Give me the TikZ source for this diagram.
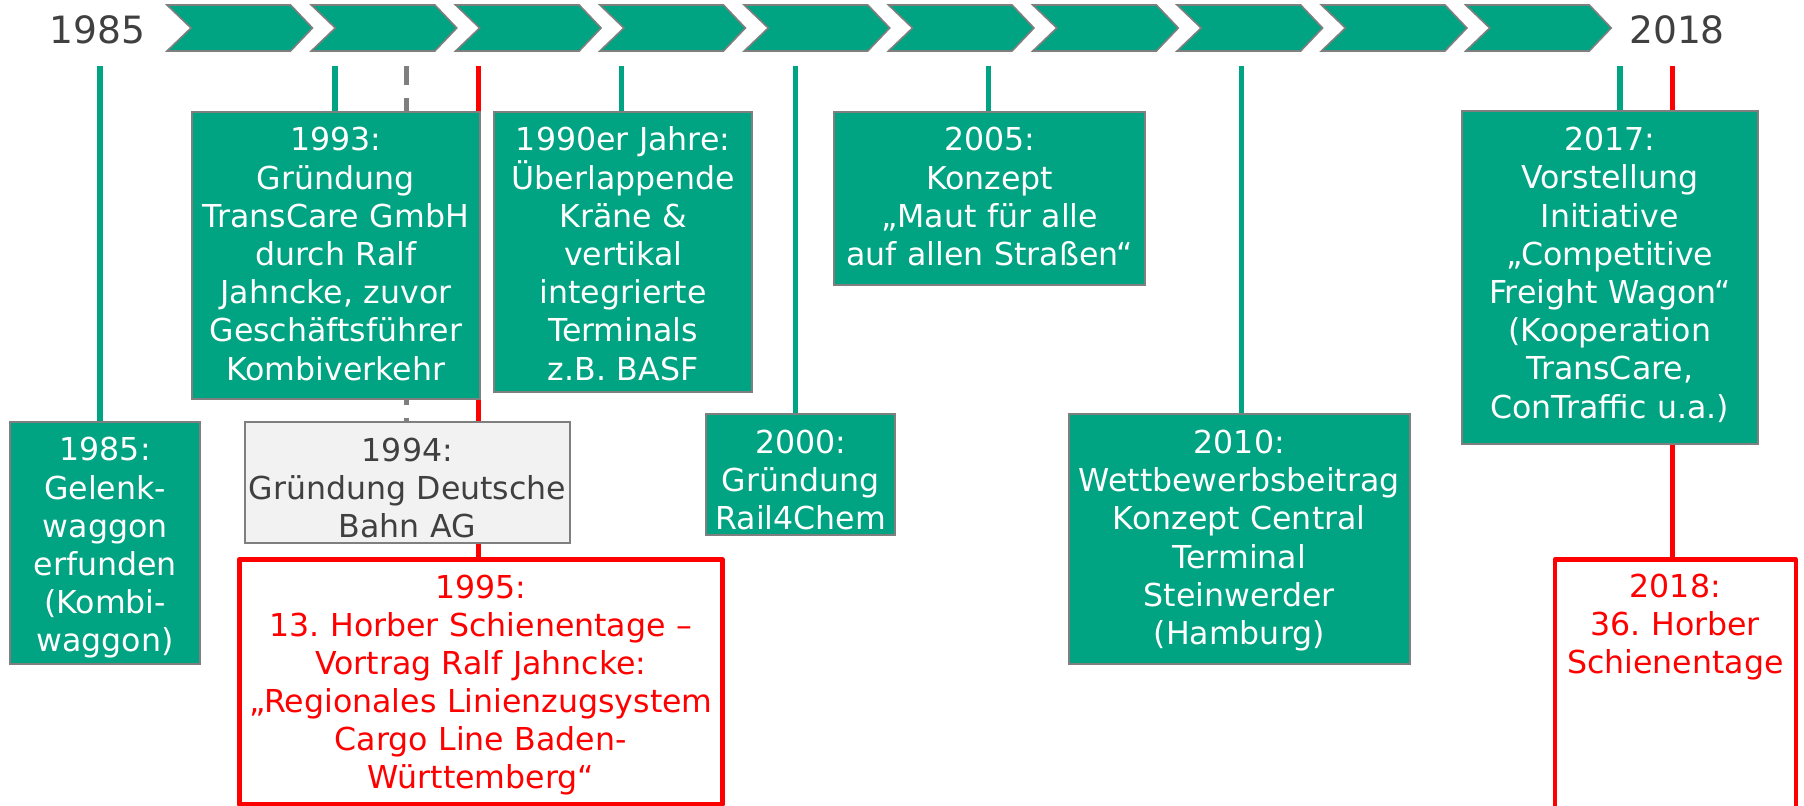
\documentclass[tikz,border=0pt]{standalone}
\usepackage{fontspec}
\setmainfont{DejaVu Sans}
\usetikzlibrary{backgrounds}
\frenchspacing

\definecolor{tlgreen}{RGB}{0,163,130}
\definecolor{tlgray}{RGB}{127,127,127}
\definecolor{tldark}{RGB}{64,64,64}
\definecolor{tllight}{RGB}{242,242,242}
\definecolor{tlred}{RGB}{255,0,0}

\tikzset{
  chevron/.style={fill=tlgreen, draw=tlgray, line width=0.8pt, line join=miter},
  event/.style={draw=tlgray, fill=tlgreen, text=white, line width=1pt, inner sep=0pt,
    align=center, anchor=north west, text height=19.65pt,
    font=\fontsize{15.8pt}{19.1pt}\selectfont},
  dbevent/.style={event, fill=tllight, text=tldark},
  hsevent/.style={event, draw=tlred, fill=white, text=tlred, line width=2.3pt, line join=round},
  year/.style={anchor=base, inner sep=0pt, text=tldark, font=\fontsize{18.8pt}{22pt}\selectfont},
  gline/.style={draw=tlgreen, line width=2.65pt},
  rline/.style={draw=tlred, line width=2.65pt},
  dline/.style={draw=tlgray, line width=2.65pt, dash pattern=on 9.5pt off 6.5pt}
}

\begin{document}
\begin{tikzpicture}[x=0.5pt, y=-0.5pt]
\useasboundingbox (0,0) rectangle (1804,806);

% arrow band
\foreach \i in {0,...,9}
  \draw[chevron] ({167+144.3*\i},5) -- ++(123.6,0) -- ++(21.9,23) -- ++(-21.9,23)
    -- ++(-123.6,0) -- ++(24,-23) -- cycle;

\node[year] (y1985) at (97.5,43.5) {1985};
\node[year] (y2018) at (1677,43.5) {2018};

% events
\node[event, text width=94.85pt, text depth=101.35pt] (b85) at (9.3,420.7)
  {1985:\\Gelenk-\\waggon\\erfunden\\(Kombi-\\waggon)};
\node[event, text width=144.15pt, text depth=124pt] (b93) at (190.7,110.7)
  {1993:\\Gründung\\TransCare GmbH\\durch Ralf\\Jahncke, zuvor\\Geschäftsführer\\Kombiverkehr};
\node[dbevent, text width=162.9pt, text depth=40.85pt] (b94) at (243.5,421)
  {1994:\\Gründung Deutsche\\Bahn AG};
\node[hsevent, text width=241.5pt, text height=19.35pt, text depth=103.15pt] (b95) at (237,557)
  {1995:\\13. Horber Schienentage –\\Vortrag Ralf Jahncke:\\„Regionales Linienzugsystem\\Cargo Line Baden-\\Württemberg“};
\node[event, text width=128.85pt, text depth=120.35pt] (b90) at (493.3,110.7)
  {1990er Jahre:\\Überlappende\\Kräne \&\\vertikal\\integrierte\\Terminals\\z.B. BASF};
\node[event, text width=94.5pt, text depth=40.85pt] (b00) at (705.3,413.3)
  {2000:\\Gründung\\Rail4Chem};
\node[event, text width=155.35pt, text depth=67.2pt] (b05) at (833.3,110.7)
  {2005:\\Konzept\\„Maut für alle\\auf allen Straßen“};
\node[event, text width=170.75pt, text depth=105.05pt] (b10) at (1067.5,413.3)
  {2010:\\Wettbewerbsbeitrag\\Konzept Central\\Terminal\\Steinwerder\\(Hamburg)};
\node[event, text width=147.75pt, text depth=146.6pt] (b17) at (1461,110.5)
  {2017:\\Vorstellung\\Initiative\\„Competitive\\Freight Wagon“\\(Kooperation\\TransCare,\\ConTraffic u.a.)};
\node[hsevent, text width=120.5pt, text height=18.75pt, text depth=117.5pt] (b18) at (1552.5,557.5)
  {2018:\\36. Horber\\Schienentage};

% markers under the band
\coordinate (c85) at (100,66);
\coordinate (c93) at (335,66);
\coordinate (c94) at (406.5,66);
\coordinate (c95) at (478.5,66);
\coordinate (c90) at (621.7,66);
\coordinate (c00) at (795.7,66);
\coordinate (c05) at (988.7,66);
\coordinate (c10) at (1241.6,66);
\coordinate (c17) at (1620,66);
\coordinate (c18) at (1672.6,66);

\begin{pgfonlayer}{background}
\draw[gline] (c85) -- (c85 |- b85.north);
\draw[gline] (c93) -- (c93 |- b93.north);
\draw[dline] (c94) -- (c94 |- b94.north);
\draw[rline] (c95) -- (c95 |- b95.north);
\draw[gline] (c90) -- (c90 |- b90.north);
\draw[gline] (c00) -- (c00 |- b00.north);
\draw[gline] (c05) -- (c05 |- b05.north);
\draw[gline] (c10) -- (c10 |- b10.north);
\draw[gline] (c17) -- (c17 |- b17.north);
\draw[rline] (c18) -- (c18 |- b18.north);
\end{pgfonlayer}
\end{tikzpicture}
\end{document}
